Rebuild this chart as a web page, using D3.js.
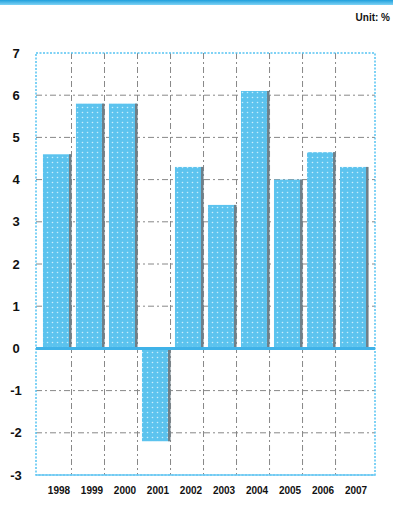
<!DOCTYPE html>
<html>
<head>
<meta charset="utf-8">
<script src="https://cdn.jsdelivr.net/npm/d3@7"></script>
<style>
html,body{margin:0;padding:0;background:#fff;}
svg{display:block;}
</style>
</head>
<body>
<svg id="chart" width="393" height="506"></svg>
<script>
const years = ["1998","1999","2000","2001","2002","2003","2004","2005","2006","2007"];
const values = [4.6, 5.8, 5.8, -2.2, 4.3, 3.4, 6.1, 4.0, 4.65, 4.3];
const yTicks = [7, 6, 5, 4, 3, 2, 1, 0, -1, -2, -3];
const unitLabel = "Unit: %";

const svg = d3.select("#chart");
const W = 393, H = 506;
const L = 36, R = 375, T = 53, B = 475;

// top banner
const defs = svg.append("defs");
const g1 = defs.append("linearGradient").attr("id","banner").attr("x1",0).attr("y1",0).attr("x2",0).attr("y2",1);
g1.append("stop").attr("offset","0%").attr("stop-color","#1f9fdc");
g1.append("stop").attr("offset","100%").attr("stop-color","#7fd3f5");
svg.append("rect").attr("x",0).attr("y",0).attr("width",W).attr("height",5).attr("fill","url(#banner)");

// dot pattern for bars
const pat = defs.append("pattern").attr("id","dots").attr("patternUnits","userSpaceOnUse")
  .attr("width",5).attr("height",5);
pat.append("rect").attr("width",5).attr("height",5).attr("fill","#5cc3ee");
pat.append("circle").attr("cx",2.5).attr("cy",2.5).attr("r",0.8).attr("fill","#c9eefc");

const x = d3.scaleBand().domain(years).range([38, 373]).paddingInner(0.15).paddingOuter(0.15);
const y = d3.scaleLinear().domain([-3, 7]).range([B, T]);

// grid
const grid = svg.append("g");
grid.selectAll("line.h").data(yTicks.filter(d => d !== 0 && d !== 7 && d !== -3)).join("line")
  .attr("x1", L).attr("x2", R).attr("y1", d => y(d)).attr("y2", d => y(d))
  .attr("stroke","#888").attr("stroke-width",1).attr("stroke-dasharray","6,3,2,3");
grid.selectAll("line.v").data(years.slice(0, 9)).join("line")
  .attr("x1", d => x(d) + x.bandwidth() + 0.5).attr("x2", d => x(d) + x.bandwidth() + 0.5)
  .attr("y1", T).attr("y2", B)
  .attr("stroke","#888").attr("stroke-width",1).attr("stroke-dasharray","6,3,2,3");

// bars
const bars = svg.append("g");
bars.selectAll("rect.bar").data(values).join("rect")
  .attr("class","bar")
  .attr("x", (d,i) => x(years[i]))
  .attr("width", x.bandwidth())
  .attr("y", d => y(Math.max(0, d)))
  .attr("height", d => Math.abs(y(d) - y(0)))
  .attr("fill","url(#dots)");
// right-edge shadow
bars.selectAll("rect.sh").data(values).join("rect")
  .attr("class","sh")
  .attr("x", (d,i) => x(years[i]) + x.bandwidth() - 2)
  .attr("width", 2.5)
  .attr("y", d => y(Math.max(0, d)))
  .attr("height", d => Math.abs(y(d) - y(0)))
  .attr("fill","#6f7f88");

// frame
svg.append("rect").attr("x", L).attr("y", T).attr("width", R - L).attr("height", B - T)
  .attr("fill","none").attr("stroke","#55c3f2").attr("stroke-width",1.5).attr("stroke-dasharray","2,1.5");
svg.append("line").attr("x1", L).attr("x2", R).attr("y1", B).attr("y2", B)
  .attr("stroke","#6cc9f2").attr("stroke-width",1.5);
// zero line
svg.append("line").attr("x1", L).attr("x2", R).attr("y1", y(0)).attr("y2", y(0))
  .attr("stroke","#3fb2e8").attr("stroke-width",3);

// y axis labels
const yAxis = d3.axisLeft(y).tickValues(yTicks).tickSize(0).tickPadding(0).tickFormat(d => String(d));
const ya = svg.append("g").attr("transform", `translate(16,0)`).call(yAxis);
ya.select(".domain").remove();
ya.selectAll("text").attr("text-anchor","middle").attr("font-family","Liberation Sans, Arial, sans-serif")
  .attr("font-weight","bold").attr("font-size",13).attr("fill","#111");

// x axis labels
const xAxis = d3.axisBottom(x).tickSize(0).tickPadding(0);
const xa = svg.append("g").attr("transform", `translate(0,${B + 12})`).call(xAxis);
xa.select(".domain").remove();
xa.selectAll("text").attr("font-family","Liberation Sans Narrow, Arial Narrow, Liberation Sans, sans-serif")
  .attr("font-weight","bold").attr("font-size",10).attr("fill","#111")
  .attr("dx", 2);

// unit label
svg.append("text").attr("x", 390).attr("y", 21).attr("text-anchor","end")
  .attr("font-family","Liberation Sans Narrow, Arial Narrow, Liberation Sans, sans-serif")
  .attr("font-weight","bold").attr("font-size",10).attr("fill","#111").text(unitLabel);
</script>
</body>
</html>
